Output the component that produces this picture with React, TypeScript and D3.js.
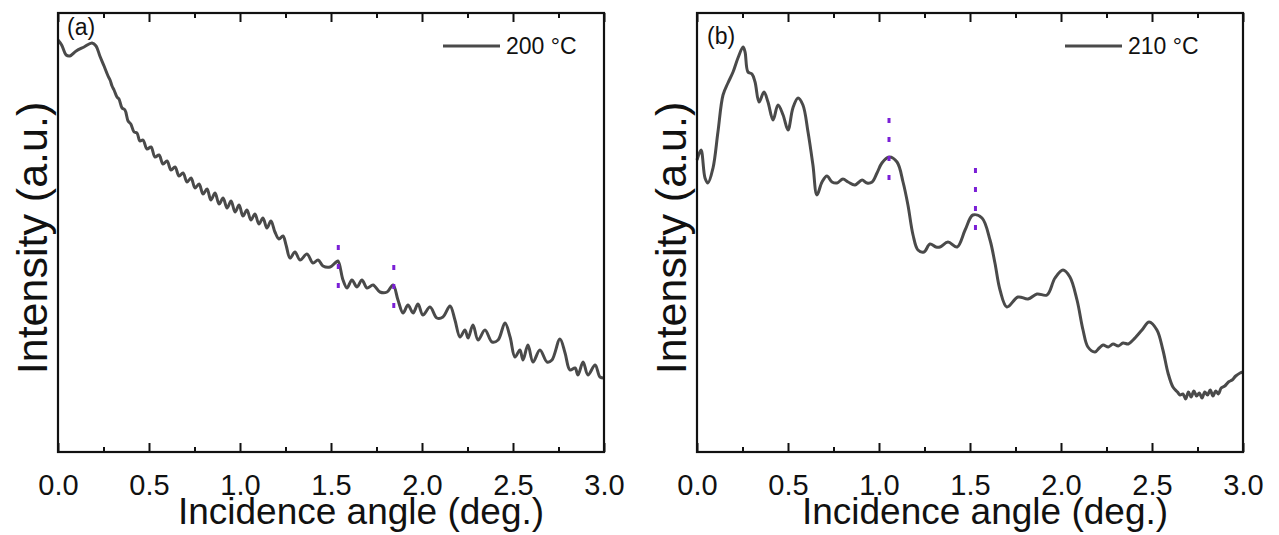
import React, { useEffect, useRef } from "react";
import * as d3 from "d3";

// incidence angle (deg.) / intensity (a.u.)
const angleA = [
  0.0, 0.02, 0.045, 0.065, 0.1, 0.143, 0.187, 0.209, 0.23, 0.253, 0.275, 0.286, 0.297, 0.308, 0.324, 0.335,
  0.352, 0.368, 0.385, 0.4, 0.418, 0.434, 0.45, 0.467, 0.489, 0.511, 0.533, 0.555, 0.577, 0.599, 0.621, 0.643,
  0.665, 0.687, 0.709, 0.731, 0.753, 0.775, 0.797, 0.819, 0.84, 0.863, 0.885, 0.907, 0.929, 0.951, 0.973, 0.995,
  1.016, 1.038, 1.06, 1.082, 1.104, 1.126, 1.148, 1.17, 1.192, 1.214, 1.236, 1.253, 1.275, 1.302, 1.33, 1.368,
  1.401, 1.429, 1.456, 1.495, 1.522, 1.538, 1.566, 1.588, 1.615, 1.643, 1.67, 1.698, 1.731, 1.769, 1.808, 1.841,
  1.868, 1.896, 1.923, 1.951, 1.978, 2.005, 2.044, 2.082, 2.115, 2.154, 2.181, 2.209, 2.236, 2.253, 2.28, 2.308,
  2.346, 2.385, 2.418, 2.456, 2.484, 2.511, 2.538, 2.555, 2.582, 2.61, 2.648, 2.687, 2.714, 2.758, 2.786, 2.813,
  2.841, 2.857, 2.885, 2.912, 2.951, 2.978, 3.0,
];
const intensityA = [
  412, 407, 397, 396, 401, 405, 409, 406, 396, 386, 376, 372, 366, 362, 355, 353,
  344, 342, 331, 328, 320, 319, 311, 312, 303, 305, 295, 297, 288, 291, 282, 285,
  276, 279, 270, 274, 264, 268, 258, 263, 252, 259, 248, 254, 244, 251, 240, 247,
  236, 242, 232, 238, 228, 234, 224, 231, 220, 213, 216, 207, 194, 200, 192, 198,
  189, 192, 186, 185, 189, 191, 172, 164, 172, 165, 172, 164, 167, 160, 160, 167,
  152, 139, 147, 139, 148, 137, 145, 134, 135, 146, 132, 115, 122, 114, 127, 112,
  122, 110, 112, 129, 115, 95, 102, 92, 107, 90, 102, 90, 92, 113, 99, 82,
  84, 77, 90, 77, 87, 75, 74,
];

const angleB = [
  0.0, 0.022, 0.044, 0.06, 0.088, 0.115, 0.143, 0.17, 0.198, 0.225, 0.253, 0.264, 0.28, 0.302, 0.319, 0.341,
  0.368, 0.39, 0.418, 0.445, 0.473, 0.5, 0.527, 0.555, 0.582, 0.61, 0.637, 0.659, 0.687, 0.714, 0.742, 0.769,
  0.802, 0.83, 0.868, 0.907, 0.934, 0.962, 0.989, 1.016, 1.055, 1.099, 1.132, 1.159, 1.187, 1.214, 1.247, 1.28,
  1.313, 1.335, 1.379, 1.429, 1.473, 1.516, 1.566, 1.61, 1.637, 1.665, 1.703, 1.764, 1.819, 1.868, 1.923, 1.967,
  2.011, 2.049, 2.088, 2.121, 2.148, 2.187, 2.21, 2.231, 2.26, 2.286, 2.315, 2.341, 2.37, 2.396, 2.445, 2.484,
  2.527, 2.56, 2.588, 2.615, 2.64, 2.654, 2.67, 2.685, 2.7, 2.715, 2.73, 2.745, 2.76, 2.775, 2.79, 2.805,
  2.82, 2.835, 2.85, 2.865, 2.88, 2.9, 2.92, 2.94, 2.96, 2.984, 3.0,
];
const intensityB = [
  292, 302, 274, 269, 284, 320, 357, 369, 380, 394, 405, 400, 380, 378, 370, 350,
  360, 350, 332, 347, 337, 322, 344, 354, 347, 320, 287, 257, 270, 276, 270, 269,
  273, 270, 267, 272, 269, 270, 279, 289, 295, 290, 270, 247, 217, 202, 200, 208,
  205, 205, 210, 205, 222, 237, 234, 212, 189, 162, 145, 155, 153, 158, 157, 174,
  182, 175, 152, 122, 105, 100, 104, 107, 105, 108, 106, 109, 108, 112, 122, 130,
  122, 102, 79, 65, 60, 57, 58, 53, 60, 55, 61, 56, 59, 54, 60, 57,
  62, 56, 61, 58, 64, 66, 70, 72, 76, 79, 80,
];

const markersA = [
  { angle: 1.54, top: 207, bottom: 162 },
  { angle: 1.845, top: 187, bottom: 142 },
];
const markersB = [
  { angle: 1.055, top: 334, bottom: 270 },
  { angle: 1.53, top: 284, bottom: 218 },
];

const xTicks = [0, 0.5, 1, 1.5, 2, 2.5, 3];
const xMinor = [0.25, 0.75, 1.25, 1.75, 2.25, 2.75];

const panels = [
  { tag: "(a)", legend: "200 °C", xs: angleA, ys: intensityA, marks: markersA, left: 58, tagX: 9, tagY: 22, legX: 385, titleShift: 30 },
  { tag: "(b)", legend: "210 °C", xs: angleB, ys: intensityB, marks: markersB, left: 697, tagX: 10, tagY: 31, legX: 368, titleShift: 15 },
];

const W = 1279;
const H = 535;
const top = 13;
const plotW = 546;
const plotH = 439;
const font = "'Liberation Sans', Arial, sans-serif";
const lineColor = "#4a4a4a";

export default function App() {
  const ref = useRef<SVGSVGElement>(null);

  useEffect(() => {
    const svg = d3.select(ref.current);
    svg.selectAll("*").remove();

    panels.forEach((p) => {
      const g = svg.append("g").attr("transform", `translate(${p.left},${top})`);
      const x = d3.scaleLinear().domain([0, 3]).range([0, plotW]);
      const y = d3.scaleLinear().domain([0, plotH]).range([plotH, 0]);

      // inward ticks, bottom and top
      const bottom = g.append("g").attr("transform", `translate(0,${plotH})`);
      bottom.call(d3.axisBottom(x).tickValues(xTicks).tickSizeInner(-9).tickSizeOuter(0).tickFormat(d3.format(".1f")));
      bottom.call((a) => a.select(".domain").remove());
      bottom
        .selectAll(".tick text")
        .attr("y", 43)
        .attr("dy", 0)
        .attr("font-family", font)
        .attr("font-size", 29)
        .attr("fill", "#111");
      bottom.selectAll(".tick line").attr("stroke", "#111").attr("stroke-width", 2);

      const bottomMinor = g.append("g").attr("transform", `translate(0,${plotH})`);
      bottomMinor.call(d3.axisBottom(x).tickValues(xMinor).tickSizeInner(-5).tickSizeOuter(0).tickFormat(() => ""));
      bottomMinor.call((a) => a.select(".domain").remove());
      bottomMinor.selectAll(".tick line").attr("stroke", "#111").attr("stroke-width", 2);

      const topAx = g.append("g");
      topAx.call(d3.axisTop(x).tickValues(xTicks).tickSizeInner(-9).tickSizeOuter(0).tickFormat(() => ""));
      topAx.call((a) => a.select(".domain").remove());
      topAx.selectAll(".tick line").attr("stroke", "#111").attr("stroke-width", 2);

      const topMinor = g.append("g");
      topMinor.call(d3.axisTop(x).tickValues(xMinor).tickSizeInner(-5).tickSizeOuter(0).tickFormat(() => ""));
      topMinor.call((a) => a.select(".domain").remove());
      topMinor.selectAll(".tick line").attr("stroke", "#111").attr("stroke-width", 2);

      const data = p.xs.map((v, i) => [v, p.ys[i]] as [number, number]);
      const line = d3
        .line<[number, number]>()
        .x((d) => x(d[0]))
        .y((d) => y(d[1]))
        .curve(d3.curveCatmullRom.alpha(0.5));

      g.append("path")
        .datum(data)
        .attr("d", line)
        .attr("fill", "none")
        .attr("stroke", lineColor)
        .attr("stroke-width", 3)
        .attr("stroke-linejoin", "round");

      g.selectAll(".mark")
        .data(p.marks)
        .enter()
        .append("line")
        .attr("x1", (d) => x(d.angle))
        .attr("x2", (d) => x(d.angle))
        .attr("y1", (d) => y(d.top))
        .attr("y2", (d) => y(d.bottom))
        .attr("stroke", "#7a1fd6")
        .attr("stroke-width", 3)
        .attr("stroke-dasharray", "5 14");

      g.append("rect")
        .attr("width", plotW)
        .attr("height", plotH)
        .attr("fill", "none")
        .attr("stroke", "#111")
        .attr("stroke-width", 2.2);

      g.append("text")
        .attr("x", p.tagX)
        .attr("y", p.tagY)
        .attr("font-family", font)
        .attr("font-size", 23)
        .attr("fill", "#111")
        .text(p.tag);

      g.append("line")
        .attr("x1", p.legX)
        .attr("x2", p.legX + 57)
        .attr("y1", 33)
        .attr("y2", 33)
        .attr("stroke", lineColor)
        .attr("stroke-width", 3);
      g.append("text")
        .attr("x", p.legX + 63)
        .attr("y", 41)
        .attr("font-family", font)
        .attr("font-size", 23)
        .attr("fill", "#111")
        .text(p.legend);

      g.append("text")
        .attr("x", plotW / 2 + p.titleShift)
        .attr("y", plotH + 72)
        .attr("text-anchor", "middle")
        .attr("font-family", font)
        .attr("font-size", 37)
        .attr("fill", "#111")
        .text("Incidence angle (deg.)");

      g.append("text")
        .attr("transform", `translate(-11,${225}) rotate(-90)`)
        .attr("text-anchor", "middle")
        .attr("font-family", font)
        .attr("font-size", 43)
        .attr("fill", "#111")
        .text("Intensity (a.u.)");
    });
  }, []);

  return (
    <svg
      ref={ref}
      width={W}
      height={H}
      style={{ position: "absolute", left: 0, top: 0, background: "#fff" }}
    />
  );
}
